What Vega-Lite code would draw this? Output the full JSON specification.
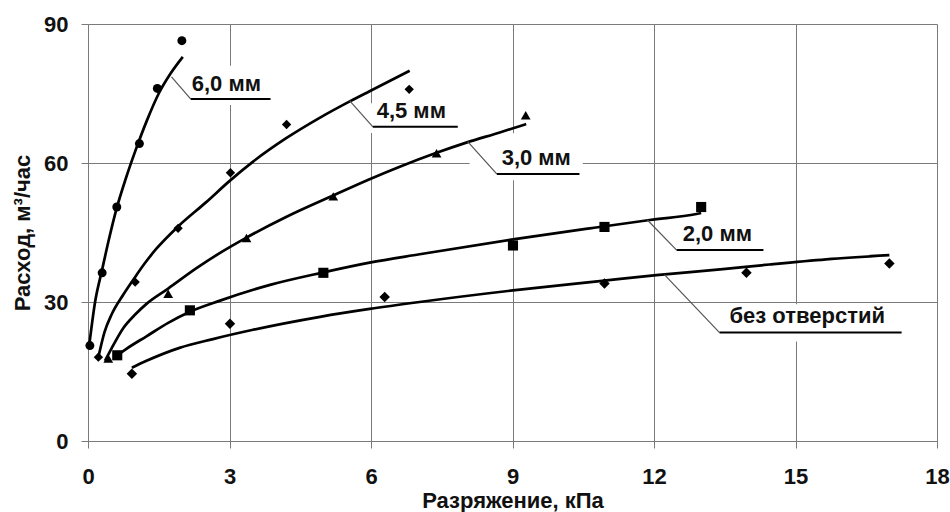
{
  "$schema": "https://vega.github.io/schema/vega-lite/v6.json",
  "width": 849,
  "height": 417,
  "autosize": {"type": "none"},
  "padding": {"left": 88, "top": 24, "right": 13, "bottom": 71},
  "background": "white",
  "config": {
    "font": "Liberation Sans",
    "view": {"stroke": null},
    "axis": {
      "grid": true,
      "gridColor": "#7a7a7a",
      "gridWidth": 1,
      "domainColor": "#7a7a7a",
      "tickColor": "#7a7a7a",
      "tickSize": 7,
      "labelFontSize": 22,
      "labelFontWeight": "bold",
      "labelColor": "#111",
      "titleFontSize": 22,
      "titleFontWeight": "bold",
      "titleColor": "#111"
    }
  },
  "datasets": {
    "curves": [
      {"s": "6,0 мм", "x": 0.03, "y": 21.0},
      {"s": "6,0 мм", "x": 0.15, "y": 30.0},
      {"s": "6,0 мм", "x": 0.3, "y": 37.0},
      {"s": "6,0 мм", "x": 0.45, "y": 43.8},
      {"s": "6,0 мм", "x": 0.61, "y": 50.3},
      {"s": "6,0 мм", "x": 0.8, "y": 56.6},
      {"s": "6,0 мм", "x": 1.0, "y": 62.5},
      {"s": "6,0 мм", "x": 1.25, "y": 69.2},
      {"s": "6,0 мм", "x": 1.5, "y": 75.0},
      {"s": "6,0 мм", "x": 1.75, "y": 79.3},
      {"s": "6,0 мм", "x": 2.01, "y": 82.9},
      {"s": "4,5 мм", "x": 0.22, "y": 18.1},
      {"s": "4,5 мм", "x": 0.35, "y": 23.5},
      {"s": "4,5 мм", "x": 0.5, "y": 27.3},
      {"s": "4,5 мм", "x": 0.75, "y": 31.6},
      {"s": "4,5 мм", "x": 0.96, "y": 34.8},
      {"s": "4,5 мм", "x": 1.2, "y": 38.3},
      {"s": "4,5 мм", "x": 1.45, "y": 41.5},
      {"s": "4,5 мм", "x": 1.91, "y": 46.3},
      {"s": "4,5 мм", "x": 2.5, "y": 51.5},
      {"s": "4,5 мм", "x": 3.01, "y": 56.2},
      {"s": "4,5 мм", "x": 3.5, "y": 60.3},
      {"s": "4,5 мм", "x": 4.21, "y": 65.4},
      {"s": "4,5 мм", "x": 4.92, "y": 69.8},
      {"s": "4,5 мм", "x": 5.55, "y": 73.3},
      {"s": "4,5 мм", "x": 5.97, "y": 75.5},
      {"s": "4,5 мм", "x": 6.82, "y": 79.9},
      {"s": "3,0 мм", "x": 0.36, "y": 17.3},
      {"s": "3,0 мм", "x": 0.5, "y": 20.0},
      {"s": "3,0 мм", "x": 0.75, "y": 24.4},
      {"s": "3,0 мм", "x": 1.0, "y": 27.3},
      {"s": "3,0 мм", "x": 1.24, "y": 29.6},
      {"s": "3,0 мм", "x": 1.7, "y": 32.9},
      {"s": "3,0 мм", "x": 2.3, "y": 37.3},
      {"s": "3,0 мм", "x": 2.8, "y": 40.6},
      {"s": "3,0 мм", "x": 3.36, "y": 43.9},
      {"s": "3,0 мм", "x": 4.21, "y": 48.4},
      {"s": "3,0 мм", "x": 5.2, "y": 53.0},
      {"s": "3,0 мм", "x": 5.97, "y": 56.5},
      {"s": "3,0 мм", "x": 6.61, "y": 59.2},
      {"s": "3,0 мм", "x": 7.39, "y": 62.2},
      {"s": "3,0 мм", "x": 8.02, "y": 64.4},
      {"s": "3,0 мм", "x": 8.73, "y": 66.6},
      {"s": "3,0 мм", "x": 9.29, "y": 68.4},
      {"s": "2,0 мм", "x": 0.55, "y": 18.0},
      {"s": "2,0 мм", "x": 0.8, "y": 19.8},
      {"s": "2,0 мм", "x": 1.24, "y": 22.6},
      {"s": "2,0 мм", "x": 1.7, "y": 25.5},
      {"s": "2,0 мм", "x": 2.16, "y": 27.9},
      {"s": "2,0 мм", "x": 2.8, "y": 30.3},
      {"s": "2,0 мм", "x": 3.86, "y": 33.7},
      {"s": "2,0 мм", "x": 4.99, "y": 36.4},
      {"s": "2,0 мм", "x": 5.97, "y": 38.5},
      {"s": "2,0 мм", "x": 7.03, "y": 40.3},
      {"s": "2,0 мм", "x": 9.01, "y": 43.5},
      {"s": "2,0 мм", "x": 10.64, "y": 45.9},
      {"s": "2,0 мм", "x": 11.91, "y": 47.7},
      {"s": "2,0 мм", "x": 12.9, "y": 49.0},
      {"s": "2,0 мм", "x": 13.0, "y": 49.2},
      {"s": "без отверстий", "x": 0.93, "y": 15.8},
      {"s": "без отверстий", "x": 1.24, "y": 17.3},
      {"s": "без отверстий", "x": 1.94, "y": 20.1},
      {"s": "без отверстий", "x": 2.65, "y": 22.0},
      {"s": "без отверстий", "x": 3.5, "y": 24.0},
      {"s": "без отверстий", "x": 4.92, "y": 26.8},
      {"s": "без отверстий", "x": 5.97, "y": 28.5},
      {"s": "без отверстий", "x": 7.03, "y": 30.0},
      {"s": "без отверстий", "x": 9.01, "y": 32.5},
      {"s": "без отверстий", "x": 10.85, "y": 34.5},
      {"s": "без отверстий", "x": 12.05, "y": 35.8},
      {"s": "без отверстий", "x": 13.46, "y": 37.1},
      {"s": "без отверстий", "x": 14.45, "y": 38.1},
      {"s": "без отверстий", "x": 15.65, "y": 39.2},
      {"s": "без отверстий", "x": 16.99, "y": 40.1}
    ],
    "points": [
      {"s": "6,0 мм", "x": 0.04, "y": 20.6},
      {"s": "6,0 мм", "x": 0.3, "y": 36.3},
      {"s": "6,0 мм", "x": 0.61, "y": 50.5},
      {"s": "6,0 мм", "x": 1.09, "y": 64.2},
      {"s": "6,0 мм", "x": 1.47, "y": 76.1},
      {"s": "6,0 мм", "x": 1.99, "y": 86.4},
      {"s": "4,5 мм", "x": 0.22, "y": 18.1},
      {"s": "4,5 мм", "x": 1.0, "y": 34.3},
      {"s": "4,5 мм", "x": 1.91, "y": 45.9},
      {"s": "4,5 мм", "x": 3.02, "y": 57.9},
      {"s": "4,5 мм", "x": 4.21, "y": 68.3},
      {"s": "4,5 мм", "x": 6.81, "y": 75.9},
      {"s": "3,0 мм", "x": 0.43, "y": 17.8},
      {"s": "3,0 мм", "x": 1.7, "y": 31.8},
      {"s": "3,0 мм", "x": 3.36, "y": 43.8},
      {"s": "3,0 мм", "x": 5.2, "y": 52.8},
      {"s": "3,0 мм", "x": 7.39, "y": 62.1},
      {"s": "3,0 мм", "x": 9.28, "y": 70.3},
      {"s": "2,0 мм", "x": 0.62, "y": 18.5},
      {"s": "2,0 мм", "x": 2.16, "y": 28.2},
      {"s": "2,0 мм", "x": 4.99, "y": 36.3},
      {"s": "2,0 мм", "x": 9.01, "y": 42.2},
      {"s": "2,0 мм", "x": 10.95, "y": 46.2},
      {"s": "2,0 мм", "x": 13.0, "y": 50.5},
      {"s": "без отверстий", "x": 0.93, "y": 14.5},
      {"s": "без отверстий", "x": 3.01, "y": 25.3},
      {"s": "без отверстий", "x": 6.29, "y": 31.1},
      {"s": "без отверстий", "x": 10.95, "y": 34.0},
      {"s": "без отверстий", "x": 13.96, "y": 36.3},
      {"s": "без отверстий", "x": 16.99, "y": 38.3}
    ],
    "boxes": [
      {"x": 2.06, "x2": 3.96, "y": 81.0, "y2": 72.5},
      {"x": 5.93, "x2": 7.92, "y": 72.9, "y2": 66.5},
      {"x": 8.09, "x2": 10.49, "y": 66.4, "y2": 56.3},
      {"x": 12.3, "x2": 14.5, "y": 46.5, "y2": 39.5},
      {"x": 13.28, "x2": 17.31, "y": 29.5, "y2": 21.5}
    ],
    "leaders": [
      {"x": 1.77, "y": 78.6, "x2": 2.18, "y2": 73.8},
      {"x": 5.55, "y": 73.4, "x2": 6.04, "y2": 67.8},
      {"x": 8.05, "y": 64.6, "x2": 8.67, "y2": 57.6},
      {"x": 11.86, "y": 47.7, "x2": 12.48, "y2": 41.2},
      {"x": 12.22, "y": 35.9, "x2": 13.39, "y2": 23.4}
    ],
    "underlines": [
      {"x": 2.18, "x2": 3.87, "y": 73.8},
      {"x": 6.04, "x2": 7.84, "y": 67.8},
      {"x": 8.67, "x2": 10.42, "y": 57.6},
      {"x": 12.48, "x2": 14.32, "y": 41.2},
      {"x": 13.39, "x2": 17.25, "y": 23.4}
    ],
    "labels": [
      {"t": "6,0 мм", "x": 2.2, "y": 75.5},
      {"t": "4,5 мм", "x": 6.12, "y": 69.7},
      {"t": "3,0 мм", "x": 8.77, "y": 59.5},
      {"t": "2,0 мм", "x": 12.61, "y": 43.1},
      {"t": "без отверстий", "x": 13.6, "y": 25.4}
    ]
  },
  "layer": [
    {
      "data": {"name": "boxes"},
      "mark": {"type": "rect", "fill": "white", "stroke": null},
      "encoding": {
        "x": {"field": "x", "type": "quantitative", "scale": {"domain": [0, 18], "nice": false, "zero": false},
              "axis": {"values": [0, 3, 6, 9, 12, 15, 18], "title": "Разряжение, кПа", "labelPadding": 18, "titlePadding": 3, "labelFlush": false}},
        "x2": {"field": "x2"},
        "y": {"field": "y", "type": "quantitative", "scale": {"domain": [0, 90], "nice": false},
              "axis": {"values": [0, 30, 60, 90], "title": "Расход, м³/час", "labelPadding": 13, "titlePadding": 9, "labelFlush": false}},
        "y2": {"field": "y2"}
      }
    },
    {
      "data": {"name": "curves"},
      "mark": {"type": "line", "color": "black", "strokeWidth": 2.7, "interpolate": "monotone"},
      "encoding": {
        "x": {"field": "x", "type": "quantitative"},
        "y": {"field": "y", "type": "quantitative"},
        "detail": {"field": "s"}
      }
    },
    {
      "data": {"name": "points"},
      "mark": {"type": "point", "filled": true, "color": "black", "opacity": 1},
      "encoding": {
        "x": {"field": "x", "type": "quantitative"},
        "y": {"field": "y", "type": "quantitative"},
        "shape": {"field": "s", "type": "nominal", "legend": null,
                  "scale": {"domain": ["6,0 мм", "4,5 мм", "3,0 мм", "2,0 мм", "без отверстий"],
                            "range": ["circle", "diamond", "triangle-up", "square", "diamond"]}},
        "size": {"field": "s", "type": "nominal", "legend": null,
                 "scale": {"domain": ["6,0 мм", "4,5 мм", "3,0 мм", "2,0 мм", "без отверстий"],
                           "range": [80, 110, 90, 95, 110]}}
      }
    },
    {
      "data": {"name": "leaders"},
      "mark": {"type": "rule", "color": "#555", "strokeWidth": 1.2},
      "encoding": {
        "x": {"field": "x", "type": "quantitative"},
        "y": {"field": "y", "type": "quantitative"},
        "x2": {"field": "x2"},
        "y2": {"field": "y2"}
      }
    },
    {
      "data": {"name": "underlines"},
      "mark": {"type": "rule", "color": "black", "strokeWidth": 2},
      "encoding": {
        "x": {"field": "x", "type": "quantitative"},
        "x2": {"field": "x2"},
        "y": {"field": "y", "type": "quantitative"}
      }
    },
    {
      "data": {"name": "labels"},
      "mark": {"type": "text", "align": "left", "baseline": "alphabetic", "fontSize": 22, "fontWeight": "bold", "font": "Liberation Sans", "color": "#111"},
      "encoding": {
        "x": {"field": "x", "type": "quantitative"},
        "y": {"field": "y", "type": "quantitative"},
        "text": {"field": "t"}
      }
    }
  ]
}
